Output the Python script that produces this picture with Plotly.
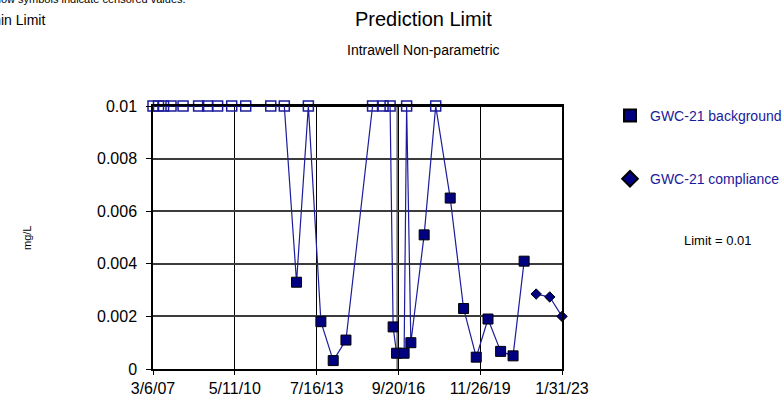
import plotly.graph_objects as go

# ---------------- data ----------------
bg_dates = [
    "2007-03-06", "2007-05-23", "2007-08-03", "2007-11-17", "2008-05-06", "2008-12-13",
    "2009-04-20", "2009-09-09", "2010-03-28", "2010-10-13", "2011-10-04", "2012-04-13",
    "2012-10-04", "2013-03-21", "2013-09-15", "2014-03-09", "2014-09-06", "2015-09-19",
    "2016-02-15", "2016-05-25", "2016-07-07", "2016-08-25", "2016-12-10", "2017-01-15",
    "2017-03-16", "2017-09-21", "2018-03-04", "2018-09-26", "2019-04-04", "2019-10-01",
    "2020-03-16", "2020-09-11", "2021-03-07", "2021-08-11",
]
bg_values = [
    0.01, 0.01, 0.01, 0.01, 0.01, 0.01,
    0.01, 0.01, 0.01, 0.01, 0.01, 0.01,
    0.0033, 0.01, 0.0018, 0.00032, 0.0011, 0.01,
    0.01, 0.01, 0.0016, 0.0006, 0.0006, 0.01,
    0.001, 0.0051, 0.01, 0.0065, 0.0023, 0.00045,
    0.0019, 0.00067, 0.0005, 0.0041,
]
bg_censored = [
    True, True, True, True, True, True,
    True, True, True, True, True, True,
    False, True, False, False, False, True,
    True, True, False, False, False, True,
    False, False, True, False, False, False,
    False, False, False, False,
]
comp_dates = ["2022-01-29", "2022-08-10", "2023-01-31"]
comp_values = [0.00285, 0.00274, 0.002]

limit_value = 0.01
limit_dates = ["2007-03-06", "2023-01-31"]

x_tick_dates = ["2007-03-06", "2010-05-11", "2013-07-16", "2016-09-20", "2019-11-26", "2023-01-31"]
x_tick_labels = ["3/6/07", "5/11/10", "7/16/13", "9/20/16", "11/26/19", "1/31/23"]
y_tick_vals = [0, 0.002, 0.004, 0.006, 0.008, 0.01]
y_tick_labels = ["0", "0.002", "0.004", "0.006", "0.008", "0.01"]

# ---------------- styling ----------------
FONT = "Liberation Sans, Arial, sans-serif"
LINE_BLUE = "#1c1c9c"
NAVY = "#000080"
TEXT_BLUE = "#1a1a9a"

L, R, T, B = 153, 221, 106, 28
W, H = 783, 397
PW, PH = W - L - R, H - T - B


def px(xp):
    return (xp - L) / PW


def py(yp):
    return (H - B - yp) / PH


fig = go.Figure()

# limit line
fig.add_trace(go.Scatter(x=limit_dates, y=[limit_value, limit_value], mode="lines",
                         line=dict(color="black", width=2), showlegend=False,
                         hoverinfo="skip", cliponaxis=False))

# background line
fig.add_trace(go.Scatter(x=bg_dates, y=bg_values, mode="lines",
                         line=dict(color=LINE_BLUE, width=1.2), showlegend=False,
                         cliponaxis=False))

# compliance line
fig.add_trace(go.Scatter(x=comp_dates, y=comp_values, mode="lines",
                         line=dict(color=LINE_BLUE, width=1.2), showlegend=False,
                         cliponaxis=False))

cx = [d for d, c in zip(bg_dates, bg_censored) if c]
cy = [v for v, c in zip(bg_values, bg_censored) if c]
dx = [d for d, c in zip(bg_dates, bg_censored) if not c]
dy = [v for v, c in zip(bg_values, bg_censored) if not c]

fig.add_trace(go.Scatter(x=cx, y=cy, mode="markers", showlegend=False,
                         marker=dict(symbol="square-open", size=10, color=LINE_BLUE,
                                     line=dict(width=1.5, color=LINE_BLUE)),
                         cliponaxis=False))
fig.add_trace(go.Scatter(x=dx, y=dy, mode="markers", name="GWC-21 background",
                         legendgroup="bg",
                         marker=dict(symbol="square", size=10, color=NAVY,
                                     line=dict(width=1, color="black")),
                         cliponaxis=False))
fig.add_trace(go.Scatter(x=comp_dates, y=comp_values, mode="markers", name="GWC-21 compliance",
                         legendgroup="comp",
                         marker=dict(symbol="diamond", size=8, color=NAVY,
                                     line=dict(width=1, color="black")),
                         cliponaxis=False))

annotations = [
    dict(text="Prediction Limit", x=px(423), y=py(19), xref="paper", yref="paper",
         xanchor="center", yanchor="middle", showarrow=False,
         font=dict(family=FONT, size=20, color="black")),
    dict(text="Intrawell Non-parametric", x=px(423), y=py(50), xref="paper", yref="paper",
         xanchor="center", yanchor="middle", showarrow=False,
         font=dict(family=FONT, size=14, color="black")),
    dict(text="Hollow symbols indicate censored values.", x=px(188), y=py(-1), xref="paper",
         yref="paper", xanchor="right", yanchor="middle", showarrow=False,
         font=dict(family=FONT, size=11, color="black")),
    dict(text="Within Limit", x=px(47), y=py(20), xref="paper", yref="paper",
         xanchor="right", yanchor="middle", showarrow=False,
         font=dict(family=FONT, size=14, color="black")),
    dict(text="Limit = 0.01", x=px(718), y=py(240), xref="paper", yref="paper",
         xanchor="center", yanchor="middle", showarrow=False,
         font=dict(family=FONT, size=13, color="black")),
    dict(text="mg/L", x=px(27), y=py(238), xref="paper", yref="paper",
         xanchor="center", yanchor="middle", showarrow=False, textangle=-90,
         font=dict(family=FONT, size=11, color="black")),
]

fig.update_layout(
    width=W, height=H,
    margin=dict(l=L, r=R, t=T, b=B, autoexpand=False),
    paper_bgcolor="white", plot_bgcolor="white",
    font=dict(family=FONT, size=16, color="black"),
    annotations=annotations,
    showlegend=True,
    legend=dict(x=px(610), y=py(100), xanchor="left", yanchor="top",
                font=dict(family=FONT, size=14, color=TEXT_BLUE),
                tracegroupgap=42, bgcolor="rgba(0,0,0,0)", itemsizing="constant"),
    shapes=[dict(type="line", xref="x", yref="paper", x0="2016-09-02", x1="2016-09-02",
                 y0=0, y1=1, line=dict(color="#666666", width=1.5), layer="below")],
)

fig.update_xaxes(
    type="date", range=[limit_dates[0], limit_dates[1]],
    tickvals=x_tick_dates, ticktext=x_tick_labels,
    showgrid=True, gridcolor="black", gridwidth=1,
    showline=True, linecolor="black", linewidth=1.5, mirror=True,
    ticks="outside", ticklen=4, tickcolor="black", ticklabelstandoff=0,
    tickfont=dict(family=FONT, size=16, color="black"),
    zeroline=False,
)
fig.update_yaxes(
    range=[0, 0.01], tickvals=y_tick_vals, ticktext=y_tick_labels,
    showgrid=True, gridcolor="#3c3c3c", gridwidth=1.5,
    showline=True, linecolor="black", linewidth=1.5, mirror=True,
    ticks="outside", ticklen=5, tickcolor="black", ticklabelstandoff=6,
    tickfont=dict(family=FONT, size=16, color="black"),
    zeroline=False,
)

fig.write_html(
    "out.html",
    config={"displayModeBar": False},
    post_script="document.body.style.margin='0';document.body.style.overflow='hidden';",
)
